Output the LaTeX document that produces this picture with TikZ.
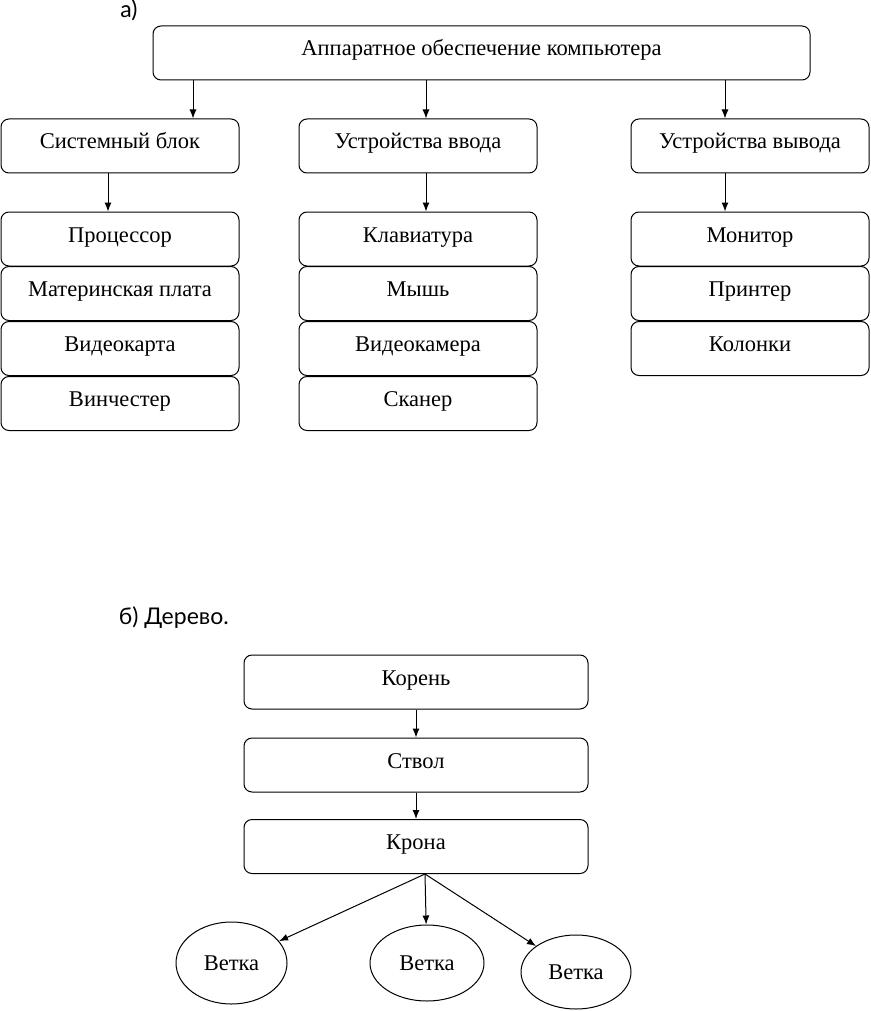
\documentclass[tikz,border=0pt]{standalone}
\usepackage{fontspec}
\setmainfont{Liberation Serif}
\newfontfamily\partfont{Lato}
\usetikzlibrary{positioning,shapes.geometric,arrows.meta}

\begin{document}
\begin{tikzpicture}[x=1pt, y=-1pt, line width=1pt,
    font=\fontsize{22.5}{26}\selectfont,
    >={Latex[length=9pt,width=7pt]},
    box/.style={draw, rounded corners=8pt, minimum width=238pt, minimum height=54pt,
                inner sep=0pt, text height=15pt, text depth=9pt},
    leaf/.style={draw, ellipse, inner sep=0pt},
    part/.style={font=\partfont\fontsize{23}{26}\selectfont}]
    \useasboundingbox (0,0) rectangle (870,1011);

    % a) hardware
    \node[part] (parta) at (129,10) {а)};
    \node[box, minimum width=657pt] (hw) at (481.5,53) {Аппаратное обеспечение компьютера};

    \node[box] (sys) at (120,146) {Системный блок};
    \node[box] (inp) at (418,146) {Устройства ввода};
    \node[box] (out) at (750,146) {Устройства вывода};

    \draw[->] ([xshift=73]sys.north |- hw.south) -- ([xshift=73]sys.north);
    \draw[->] ([xshift=8]inp.north |- hw.south)  -- ([xshift=8]inp.north);
    \draw[->] ([xshift=-25]out.north |- hw.south) -- ([xshift=-25]out.north);

    \node[box] (cpu)  at (120,239)   {Процессор};
    \node[box] (mb)   at (120,293.5) {Материнская плата};
    \node[box] (gpu)  at (120,348.5) {Видеокарта};
    \node[box] (hdd)  at (120,403.5) {Винчестер};

    \node[box] (kbd)  at (418,239)   {Клавиатура};
    \node[box] (mouse) at (418,293.5) {Мышь};
    \node[box] (cam)  at (418,348.5) {Видеокамера};
    \node[box] (scan) at (418,403.5) {Сканер};

    \node[box] (mon)  at (750,239)   {Монитор};
    \node[box] (prn)  at (750,293.5) {Принтер};
    \node[box] (spk)  at (750,348.5) {Колонки};

    \draw[->] ([xshift=-12]cpu.north |- sys.south) -- ([xshift=-12]cpu.north);
    \draw[->] ([xshift=8]kbd.north |- inp.south)   -- ([xshift=8]kbd.north);
    \draw[->] ([xshift=-25]mon.north |- out.south) -- ([xshift=-25]mon.north);

    % b) tree
    \node[part, anchor=west] (partb) at (115,618) {б) Дерево.};

    \node[box, minimum width=344pt] (root)  at (416,682)   {Корень};
    \node[box, minimum width=344pt] (trunk) at (416,765)   {Ствол};
    \node[box, minimum width=344pt] (crown) at (416,846.5) {Крона};

    \draw[->] (root)  -- (trunk);
    \draw[->] (trunk) -- (crown);

    \coordinate (fork) at ([xshift=9]crown.south);
    \node[leaf, minimum width=111pt, minimum height=82pt] (br1) at (231.5,963) {Ветка};
    \node[leaf, minimum width=114pt, minimum height=76pt] (br2) at (427,963)   {Ветка};
    \node[leaf, minimum width=110pt, minimum height=74pt] (br3) at (576,972)   {Ветка};

    \draw[->] (fork) -- (br1);
    \draw[->] (fork) -- (br2);
    \draw[->] (fork) -- (br3);
\end{tikzpicture}
\end{document}
